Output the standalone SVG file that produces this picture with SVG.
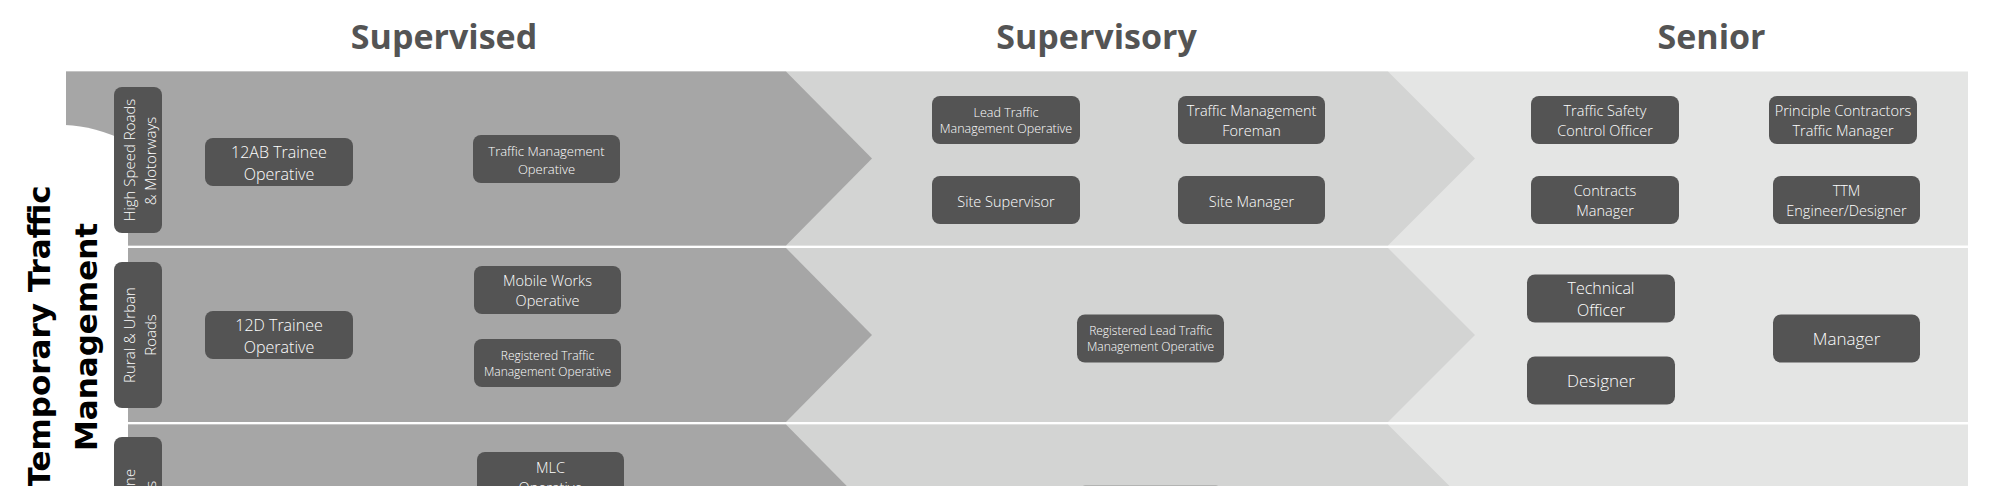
<svg xmlns="http://www.w3.org/2000/svg" width="2000" height="486" viewBox="0 0 2000 486">
<style>
.bg{fill:#ffffff}
.b1{fill:#a6a6a6}
.b2{fill:#d3d4d3}
.b3{fill:#e4e5e4}
.box{fill:#545454}
.lab{fill:#545454}
.t{font-family:"Open Sans","Liberation Sans",sans-serif;font-weight:300;fill:#ffffff;text-anchor:middle}
.h{font-family:"Open Sans","Liberation Sans",sans-serif;font-weight:700;font-size:34px;fill:#545454;text-anchor:middle}
.title{font-family:"DejaVu Sans","Liberation Sans",sans-serif;font-weight:700;font-size:31px;fill:#000000;text-anchor:middle}
.rl{font-family:"Open Sans","Liberation Sans",sans-serif;font-weight:300;font-size:15px;fill:#ffffff;text-anchor:middle}
</style>
<rect class="bg" x="0" y="0" width="2000" height="486"/>

<g id="bands">
  <rect class="b3" x="66" y="71.5" width="1902" height="174"/>
  <polygon class="b2" points="66,71.5 1388,71.5 1475,158.5 1388,245.5 66,245.5"/>
  <polygon class="b1" points="66,71.5 786,71.5 872,158.5 786,245.5 66,245.5"/>
  <rect class="b3" x="66" y="248" width="1902" height="174"/>
  <polygon class="b2" points="66,248 1388,248 1475,335 1388,422 66,422"/>
  <polygon class="b1" points="66,248 786,248 872,335 786,422 66,422"/>
  <rect class="b3" x="66" y="424.5" width="1902" height="174"/>
  <polygon class="b2" points="66,424.5 1388,424.5 1475,511.5 1388,598.5 66,598.5"/>
  <polygon class="b1" points="66,424.5 786,424.5 872,511.5 786,598.5 66,598.5"/>
  <path class="bg" d="M0,125 L65,125 Q95,126 128,142 L128,486 L0,486 Z"/>
</g>

<g id="headings">
  <text class="h" x="444" y="48.5">Supervised</text>
  <text class="h" x="1096.5" y="48.5">Supervisory</text>
  <text class="h" x="1711.5" y="48.5">Senior</text>
</g>

<g id="title">
  <text class="title" transform="translate(50,337) rotate(-90)">Temporary Traffic</text>
  <text class="title" transform="translate(97,337) rotate(-90)">Management</text>
</g>

<g id="row-label-1">
  <rect class="lab" x="114" y="87" width="48" height="146" rx="8"/>
  <text class="rl" transform="translate(134.7,160) rotate(-90)">High Speed Roads</text>
  <text class="rl" transform="translate(155.5,161) rotate(-90)">&amp; Motorways</text>
</g>
<g id="row-label-2">
  <rect class="lab" x="114" y="262" width="48" height="146" rx="8"/>
  <text class="rl" transform="translate(134.7,335) rotate(-90)">Rural &amp; Urban</text>
  <text class="rl" transform="translate(155.5,335) rotate(-90)">Roads</text>
</g>
<g id="row-label-3">
  <rect class="lab" x="114" y="437" width="48" height="146" rx="8"/>
  <text class="rl" transform="translate(134.7,510) rotate(-90)">Mobile Lane</text>
  <text class="rl" transform="translate(155.5,510) rotate(-90)">Closures</text>
</g>

<g id="n-12ab">
  <rect class="box" x="205" y="138" width="148" height="48" rx="8"/>
  <text class="t" font-size="16" x="279" y="157.8">12AB Trainee</text>
  <text class="t" font-size="16" x="279" y="179.8">Operative</text>
</g>
<g id="n-tmo">
  <rect class="box" x="473" y="135" width="147" height="48" rx="8"/>
  <text class="t" font-size="13" x="546.5" y="155.7">Traffic Management</text>
  <text class="t" font-size="13" x="546.5" y="173.7">Operative</text>
</g>
<g id="n-ltmo">
  <rect class="box" x="932" y="96" width="148" height="48" rx="8"/>
  <text class="t" font-size="12.5" x="1006" y="116.5">Lead Traffic</text>
  <text class="t" font-size="12.5" x="1006" y="133">Management Operative</text>
</g>
<g id="n-tmf">
  <rect class="box" x="1178" y="96" width="147" height="48" rx="8"/>
  <text class="t" font-size="14.5" x="1251.5" y="116.2">Traffic Management</text>
  <text class="t" font-size="14.5" x="1251.5" y="136.4">Foreman</text>
</g>
<g id="n-ss">
  <rect class="box" x="932" y="176" width="148" height="48" rx="8"/>
  <text class="t" font-size="14.5" x="1006" y="206.5">Site Supervisor</text>
</g>
<g id="n-sm">
  <rect class="box" x="1178" y="176" width="147" height="48" rx="8"/>
  <text class="t" font-size="14.5" x="1251.5" y="206.5">Site Manager</text>
</g>
<g id="n-tsco">
  <rect class="box" x="1531" y="96" width="148" height="48" rx="8"/>
  <text class="t" font-size="14.5" x="1605" y="116.2">Traffic Safety</text>
  <text class="t" font-size="14.5" x="1605" y="136.4">Control Officer</text>
</g>
<g id="n-pctm">
  <rect class="box" x="1769" y="96" width="148" height="48" rx="8"/>
  <text class="t" font-size="14.5" x="1843" y="116.2">Principle Contractors</text>
  <text class="t" font-size="14.5" x="1843" y="136.4">Traffic Manager</text>
</g>
<g id="n-cm">
  <rect class="box" x="1531" y="176" width="148" height="48" rx="8"/>
  <text class="t" font-size="14.5" x="1605" y="196.2">Contracts</text>
  <text class="t" font-size="14.5" x="1605" y="216.4">Manager</text>
</g>
<g id="n-ttm">
  <rect class="box" x="1773" y="176" width="147" height="48" rx="8"/>
  <text class="t" font-size="14.5" x="1846.5" y="196.2">TTM</text>
  <text class="t" font-size="14.5" x="1846.5" y="216.4">Engineer/Designer</text>
</g>

<g id="n-12d">
  <rect class="box" x="205" y="311" width="148" height="48" rx="8"/>
  <text class="t" font-size="16" x="279" y="330.8">12D Trainee</text>
  <text class="t" font-size="16" x="279" y="352.8">Operative</text>
</g>
<g id="n-mwo">
  <rect class="box" x="474" y="266" width="147" height="48" rx="8"/>
  <text class="t" font-size="14.5" x="547.5" y="286.2">Mobile Works</text>
  <text class="t" font-size="14.5" x="547.5" y="306.4">Operative</text>
</g>
<g id="n-rtmo">
  <rect class="box" x="474" y="339" width="147" height="48" rx="8"/>
  <text class="t" font-size="12" x="547.5" y="359.5">Registered Traffic</text>
  <text class="t" font-size="12" x="547.5" y="375.8">Management Operative</text>
</g>
<g id="n-rltmo">
  <rect class="box" x="1077" y="314.5" width="147" height="48" rx="8"/>
  <text class="t" font-size="12" x="1150.5" y="335">Registered Lead Traffic</text>
  <text class="t" font-size="12" x="1150.5" y="351.3">Management Operative</text>
</g>
<g id="n-to">
  <rect class="box" x="1527" y="274.5" width="148" height="48" rx="8"/>
  <text class="t" font-size="16" x="1601" y="294.3">Technical</text>
  <text class="t" font-size="16" x="1601" y="316.3">Officer</text>
</g>
<g id="n-des">
  <rect class="box" x="1527" y="356.5" width="148" height="48" rx="8"/>
  <text class="t" font-size="17" x="1601" y="387">Designer</text>
</g>
<g id="n-mgr">
  <rect class="box" x="1773" y="314.5" width="147" height="48" rx="8"/>
  <text class="t" font-size="17" x="1846.5" y="345">Manager</text>
</g>

<g id="n-mlc">
  <rect class="box" x="477" y="452" width="147" height="48" rx="8"/>
  <text class="t" font-size="14.5" x="550.5" y="473">MLC</text>
  <text class="t" font-size="14.5" x="550.5" y="493.2">Operative</text>
</g>
<g id="n-row3-supervisory">
  <rect class="box" x="1077" y="485.7" width="147" height="48" rx="8"/>
</g>

<g id="connectors"></g>
</svg>
